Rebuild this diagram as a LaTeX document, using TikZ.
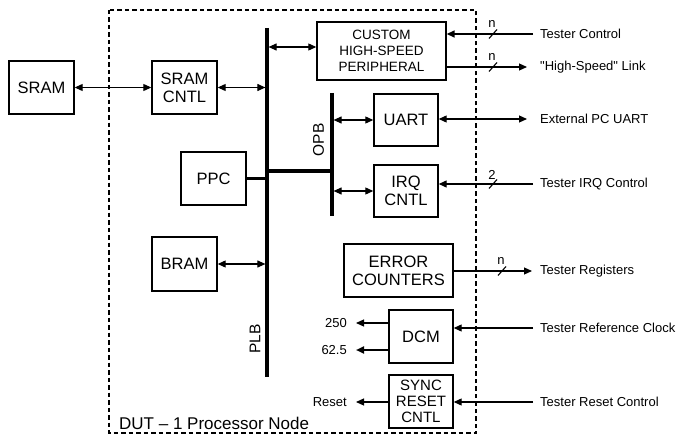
\documentclass[tikz,border=0pt]{standalone}
\usepackage{fontspec}
\setmainfont{Liberation Sans}
\usetikzlibrary{arrows.meta,calc}
\begin{document}
\begin{tikzpicture}[x=1pt,y=-1pt,
  blk/.style={draw, line width=1.4pt, inner sep=0pt, align=center, font=\fontsize{16.5}{18}\selectfont},
  lbl/.style={inner sep=0pt, font=\fontsize{13}{15}\selectfont},
  bus/.style={line width=3.2pt},
  tipA/.tip={Triangle[length=8pt,width=7pt]},
  bi/.style={line width=1.1pt, tipA-tipA},
  one/.style={line width=1.1pt, -tipA},
  slash/.style={line width=1.1pt},
]
\useasboundingbox (0,0) rectangle (678,436);
% outer DUT frame
\draw[line width=1.9pt, dash pattern=on 4.5pt off 3pt] (109,10) rectangle (476,433);
\node[anchor=west, inner sep=0pt, font=\fontsize{17}{19}\selectfont] (dut) at (119,423) {DUT -- 1 Processor Node};

% blocks
\node[blk, minimum width=65pt, minimum height=53pt] (sram) at (41.5,87.5) {SRAM};
\node[blk, minimum width=65pt, minimum height=53pt] (sramc) at (184.5,87.5) {SRAM\\CNTL};
\node[blk, minimum width=129pt, minimum height=58pt, font=\fontsize{13.5}{16}\selectfont] (cust) at (381.5,51) {CUSTOM\\HIGH-SPEED\\PERIPHERAL};
\node[blk, minimum width=64pt, minimum height=52pt] (uart) at (406,120) {UART};
\node[blk, minimum width=64pt, minimum height=52pt] (irq) at (406,191) {IRQ\\CNTL};
\node[blk, minimum width=65pt, minimum height=53pt] (ppc) at (213.5,178.5) {PPC};
\node[blk, minimum width=65pt, minimum height=54pt] (bram) at (184.5,264) {BRAM};
\node[blk, minimum width=109pt, minimum height=53pt] (err) at (398.5,270.5) {ERROR\\COUNTERS};
\node[blk, minimum width=64pt, minimum height=53pt] (dcm) at (421,336.5) {DCM};
\node[blk, minimum width=64pt, minimum height=53pt, font=\fontsize{15}{16}\selectfont] (sync) at (421,401.5) {SYNC\\RESET\\CNTL};

% buses
\coordinate (plbT) at (267,28);
\coordinate (plbB) at (267,377);
\draw[bus] (plbT) -- (plbB);
\coordinate (opbT) at (332,93);
\coordinate (opbB) at (332,216);
\draw[bus] (opbT) -- (opbB);
\coordinate (junc) at (267,171);
\draw[bus] (junc) -- (junc -| opbT);
\draw[bus] (ppc.east) -- (ppc.east -| plbT);
\node[rotate=90, inner sep=0pt, font=\fontsize{15.5}{17}\selectfont] (plbl) at (255,339) {PLB};
\node[rotate=90, inner sep=0pt, font=\fontsize{15.5}{17}\selectfont] (opbl) at (318.5,140) {OPB};

% internal connections
\draw[bi] (sram.east) -- (sramc.west);
\draw[bi, shorten >=1.6pt] (sramc.east) -- (sramc.east -| plbT);
\path ([yshift=4pt]cust.west) coordinate (cw);
\draw[bi, shorten <=1.6pt] (cw -| plbT) -- (cw);
\draw[bi, shorten <=1.6pt] (uart.west -| opbT) -- (uart.west);
\draw[bi, shorten <=1.6pt] (irq.west -| opbT) -- (irq.west);
\draw[bi, shorten >=1.6pt] (bram.east) -- (bram.east -| plbT);

% external signals
\node[lbl, anchor=west] (tctl) at (540,34) {Tester Control};
\draw[one, line width=1.5pt] ([xshift=-7pt]tctl.west) -- (cust.east |- tctl.west);
\draw[slash] (489,38.5) -- (497,29.5);
\node[lbl] (n1) at (492,24) {n};

\node[lbl, anchor=west] (hsl) at (540,67) {\textquotedbl High-Speed\textquotedbl{} Link};
\draw[one] (cust.east |- hsl.west) -- ([xshift=-13pt]hsl.west);
\draw[slash] (489,71.5) -- (497,62.5);
\node[lbl] (n2) at (492,57) {n};

\node[lbl, anchor=west] (ext) at (540,119) {External PC UART};
\draw[bi] (uart.east |- ext.west) -- ([xshift=-13pt]ext.west);

\node[lbl, anchor=west] (tirq) at (540,184) {Tester IRQ Control};
\draw[one, line width=1.3pt] ([xshift=-7pt]tirq.west) -- (irq.east |- tirq.west);
\draw[slash] (489,188.5) -- (497,179.5);
\node[lbl] (n3) at (492,175) {2};

\node[lbl, anchor=west] (treg) at (540,271) {Tester Registers};
\draw[one] (err.east |- treg.west) -- ([xshift=-8pt]treg.west);
\draw[slash] (498,275.5) -- (506,266.5);
\node[lbl] (n4) at (501,261) {n};

\node[lbl, anchor=west] (tclk) at (540,328) {Tester Reference Clock};
\draw[one] ([xshift=-7pt]tclk.west) -- (dcm.east |- tclk.west);

\node[lbl, anchor=west] (trst) at (540,402) {Tester Reset Control};
\draw[one] ([xshift=-7pt]trst.west) -- (sync.east |- trst.west);

\node[lbl, anchor=east] (f250) at (347,323) {250};
\draw[one] (dcm.west |- f250.east) -- ([xshift=9pt]f250.east);
\node[lbl, anchor=east] (f62) at (347,350) {62.5};
\draw[one, line width=2pt] (dcm.west |- f62.east) -- ([xshift=9pt]f62.east);
\node[lbl, anchor=east] (rst) at (347,402) {Reset};
\draw[one] (sync.west |- rst.east) -- ([xshift=9pt]rst.east);
\end{tikzpicture}
\end{document}
